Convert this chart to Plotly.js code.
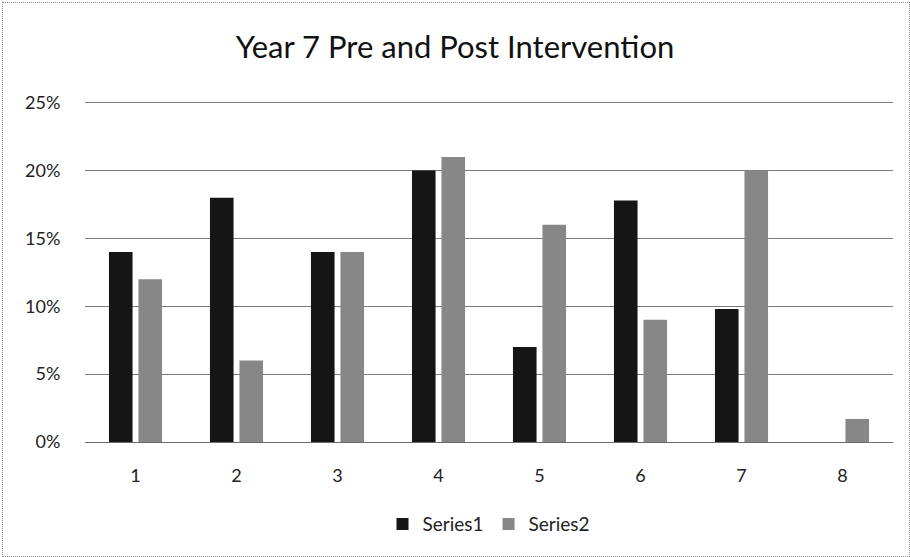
<!DOCTYPE html>
<html>
<head>
<meta charset="utf-8">
<script src="https://cdn.plot.ly/plotly-3.0.1.min.js"></script>
<style>
html,body{margin:0;padding:0;background:#fff;}
#wrap{position:absolute;left:2px;top:2px;width:906px;height:553px;border:1px dotted #8a8a8a;}
#chart{position:absolute;left:-3px;top:-3px;width:910px;height:557px;}
</style>
</head>
<body>
<div id="wrap"><div id="chart"></div></div>
<script>
const categories = ['1','2','3','4','5','6','7','8'];
const series1 = [0.14, 0.18, 0.14, 0.20, 0.07, 0.178, 0.098, 0];
const series2 = [0.12, 0.06, 0.14, 0.21, 0.16, 0.09, 0.20, 0.017];
const yTicks = [0, 0.05, 0.10, 0.15, 0.20, 0.25];
const yTickLabels = ['0%', '5%', '10%', '15%', '20%', '25%'];

const fontFam = 'Lato, "Open Sans", sans-serif';
const traces = [
  {type:'bar', name:'Series1', x:categories, y:series1, marker:{color:'#151515'}},
  {type:'bar', name:'Series2', x:categories, y:series2, marker:{color:'#878787'}}
];
const layout = {
  width:910, height:557,
  margin:{l:85, r:17, t:100, b:115},
  paper_bgcolor:'rgba(0,0,0,0)', plot_bgcolor:'#fff',
  title:{text:'Year 7 Pre and Post Intervention', x:0.5, xanchor:'center', y:0.915, yanchor:'middle',
         font:{family:fontFam, size:31, color:'#111'}},
  barmode:'group', bargap:0.416, bargroupgap:0.2,
  xaxis:{type:'category', tickfont:{family:fontFam, size:18, color:'#222'},
         ticks:'outside', ticklen:17, tickcolor:'rgba(0,0,0,0)', showline:false, showgrid:false},
  yaxis:{range:[0,0.252], tickvals:yTicks, ticktext:yTickLabels,
         tickfont:{family:fontFam, size:18, color:'#222'},
         ticks:'outside', ticklen:20, tickcolor:'rgba(0,0,0,0)',
         showgrid:true, gridcolor:'#7a7a7a', gridwidth:1,
         zeroline:true, zerolinecolor:'#6a6a6a', zerolinewidth:1, showline:false},
  showlegend:true,
  legend:{orientation:'h', x:0.5, xanchor:'center', y:-0.24, yanchor:'middle',
          font:{family:fontFam, size:19, color:'#222'}, itemwidth:30}
};
Plotly.newPlot('chart', traces, layout, {staticPlot:true});
</script>
</body>
</html>
